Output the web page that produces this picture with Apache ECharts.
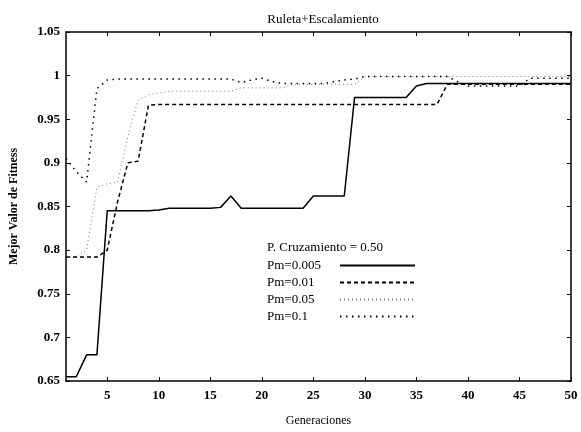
<!DOCTYPE html>
<html>
<head>
<meta charset="utf-8">
<script src="https://cdn.jsdelivr.net/npm/echarts@6/dist/echarts.min.js"></script>
<style>
  html, body { margin: 0; padding: 0; background: #fff; }
  #chart { width: 581px; height: 432px; }
</style>
</head>
<body>
<div id="chart"></div>
<script>
// generaciones 1..50
var generaciones = []
for (var g = 1; g <= 50; g++) generaciones.push(g)

var xTicks = [5, 10, 15, 20, 25, 30, 35, 40, 45, 50]

// Pm=0.005 (linea continua)
var pm005 = [0.655, 0.655, 0.68, 0.68, 0.845, 0.845, 0.845, 0.845, 0.845, 0.846,
  0.848, 0.848, 0.848, 0.848, 0.848, 0.849, 0.862, 0.848, 0.848, 0.848,
  0.848, 0.848, 0.848, 0.848, 0.862, 0.862, 0.862, 0.862, 0.975, 0.975,
  0.975, 0.975, 0.975, 0.975, 0.988, 0.991, 0.991, 0.991, 0.991, 0.991,
  0.991, 0.991, 0.991, 0.991, 0.991, 0.991, 0.991, 0.991, 0.991, 0.991]
// Pm=0.01 (rayas)
var pm01 = [0.792, 0.792, 0.792, 0.792, 0.80, 0.855, 0.90, 0.902, 0.966, 0.967,
  0.967, 0.967, 0.967, 0.967, 0.967, 0.967, 0.967, 0.967, 0.967, 0.967,
  0.967, 0.967, 0.967, 0.967, 0.967, 0.967, 0.967, 0.967, 0.967, 0.967,
  0.967, 0.967, 0.967, 0.967, 0.967, 0.967, 0.967, 0.99, 0.99, 0.99,
  0.99, 0.99, 0.99, 0.99, 0.99, 0.99, 0.99, 0.99, 0.99, 0.99]
// Pm=0.05 (punteado fino)
var pm05 = [0.792, 0.792, 0.80, 0.872, 0.876, 0.878, 0.93, 0.972, 0.978, 0.98,
  0.982, 0.982, 0.982, 0.982, 0.982, 0.982, 0.982, 0.986, 0.986, 0.986,
  0.986, 0.986, 0.99, 0.99, 0.99, 0.99, 0.99, 0.99, 0.99, 0.999,
  0.999, 0.999, 0.999, 0.999, 0.999, 0.999, 0.999, 0.999, 0.999, 0.999,
  0.999, 0.999, 0.999, 0.999, 0.999, 0.999, 0.999, 0.999, 0.999, 0.999]
// Pm=0.1 (punteado)
var pm1 = [0.905, 0.89, 0.878, 0.985, 0.995, 0.996, 0.996, 0.996, 0.996, 0.996,
  0.996, 0.996, 0.996, 0.996, 0.996, 0.996, 0.996, 0.992, 0.995, 0.997,
  0.993, 0.991, 0.991, 0.991, 0.991, 0.991, 0.993, 0.995, 0.996, 0.999,
  0.999, 0.999, 0.999, 0.999, 0.999, 0.999, 0.999, 0.999, 0.993, 0.988,
  0.988, 0.988, 0.988, 0.988, 0.988, 0.997, 0.997, 0.997, 0.997, 0.997]

function pares (ys) {
  return ys.map(function (y, i) { return [generaciones[i], y] })
}

var serif = 'Liberation Serif'
var chart = echarts.init(document.getElementById('chart'))

chart.setOption({
  animation: false,
  backgroundColor: '#fff',
  textStyle: { fontFamily: serif, color: '#000' },
  title: [
    {
      text: 'Ruleta+Escalamiento',
      left: 318,
      textAlign: 'center',
      top: 8,
      textStyle: { fontFamily: serif, fontSize: 13, fontWeight: 'normal', color: '#000' }
    },
    {
      text: 'P. Cruzamiento = 0.50',
      left: 262,
      top: 236,
      textStyle: { fontFamily: serif, fontSize: 13, fontWeight: 'normal', color: '#000' }
    }
  ],
  grid: { left: 65, right: 10, top: 32, bottom: 49 },
  legend: {
    orient: 'vertical',
    left: 262,
    top: 254,
    align: 'right',
    itemWidth: 75,
    itemHeight: 10,
    itemGap: 4,
    itemStyle: { opacity: 0 },
    formatter: '{n|{name}}',
    textStyle: {
      fontFamily: serif, fontSize: 13, color: '#000',
      rich: { n: { fontFamily: serif, fontSize: 13, color: '#000', width: 68, align: 'left' } }
    },
    data: ['Pm=0.005', 'Pm=0.01', 'Pm=0.05', 'Pm=0.1']
  },
  xAxis: [
    {
      type: 'value',
      min: 1,
      max: 50,
      name: 'Generaciones',
      nameLocation: 'middle',
      nameGap: 34,
      nameTextStyle: { fontFamily: serif, fontSize: 12, color: '#000' },
      axisLine: { lineStyle: { color: '#000', width: 1.5 } },
      axisTick: { inside: true, length: 4, customValues: xTicks, lineStyle: { color: '#000' } },
      axisLabel: { customValues: xTicks, fontFamily: serif, fontSize: 13, fontWeight: 'bold', color: '#000', margin: 8 },
      splitLine: { show: false }
    },
    {
      type: 'value',
      position: 'top',
      min: 1,
      max: 50,
      axisLine: { lineStyle: { color: '#000', width: 1.5 } },
      axisTick: { inside: true, length: 4, customValues: xTicks, lineStyle: { color: '#000' } },
      axisLabel: { show: false },
      splitLine: { show: false }
    }
  ],
  yAxis: [
    {
      type: 'value',
      min: 0.65,
      max: 1.05,
      interval: 0.05,
      name: 'Mejor Valor de Fitness',
      nameLocation: 'middle',
      nameGap: 46,
      nameTextStyle: { fontFamily: serif, fontSize: 12, fontWeight: 'bold', color: '#000' },
      axisLine: { show: true, lineStyle: { color: '#000', width: 1.5 } },
      axisTick: { show: true, inside: true, length: 4, lineStyle: { color: '#000' } },
      axisLabel: {
        fontFamily: serif, fontSize: 13, fontWeight: 'bold', color: '#000', margin: 6,
        formatter: function (v) { return String(Math.round(v * 100) / 100) }
      },
      splitLine: { show: false }
    },
    {
      type: 'value',
      position: 'right',
      min: 0.65,
      max: 1.05,
      interval: 0.05,
      axisLine: { show: true, lineStyle: { color: '#000', width: 1.5 } },
      axisTick: { show: true, inside: true, length: 4, lineStyle: { color: '#000' } },
      axisLabel: { show: false },
      splitLine: { show: false }
    }
  ],
  series: [
    {
      name: 'Pm=0.005',
      type: 'line',
      symbol: 'none',
      data: pares(pm005),
      color: '#000',
      lineStyle: { color: '#000', width: 1.5 },
      z: 4
    },
    {
      name: 'Pm=0.01',
      type: 'line',
      symbol: 'none',
      data: pares(pm01),
      color: '#000',
      lineStyle: { color: '#000', width: 1.5, type: [4, 3] },
      z: 3
    },
    {
      name: 'Pm=0.05',
      type: 'line',
      symbol: 'none',
      data: pares(pm05),
      color: '#777',
      lineStyle: { color: '#777', width: 1, type: [1, 3] },
      z: 2
    },
    {
      name: 'Pm=0.1',
      type: 'line',
      symbol: 'none',
      data: pares(pm1),
      color: '#000',
      lineStyle: { color: '#000', width: 1.5, type: [1.5, 4.5] },
      z: 3
    }
  ]
})
</script>
</body>
</html>
